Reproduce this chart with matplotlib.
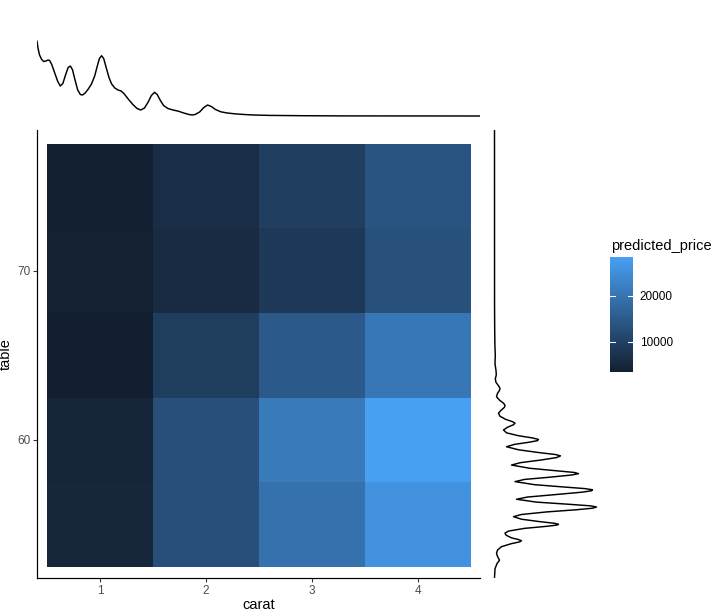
import numpy as np
import matplotlib
matplotlib.use("Agg")
import matplotlib.pyplot as plt
from matplotlib.colors import LinearSegmentedColormap

plt.rcParams['font.family'] = ['Liberation Sans', 'DejaVu Sans']

# predicted price grid (rows = table, columns = carat)
carat = [1, 2, 3, 4]
table = [55, 60, 65, 70, 75]
predicted_price = [
    [5000, 12700, 19400, 25700],   # table 55
    [4600, 12700, 20900, 28400],   # table 60
    [3400, 9200, 14900, 20400],    # table 65
    [3800, 5800, 8400, 12900],     # table 70
    [3500, 6300, 9400, 13700],     # table 75
]
legend_ticks = [10000, 20000]

# marginal density of carat (top)
carat_x = [0.406, 0.415, 0.43, 0.45, 0.47, 0.49, 0.51, 0.525, 0.545, 0.57, 0.60,
           0.625, 0.65, 0.675, 0.70, 0.72, 0.74, 0.765, 0.79, 0.815, 0.835, 0.86,
           0.89, 0.92, 0.95, 0.975, 0.995, 1.015, 1.035, 1.06, 1.085, 1.11, 1.14,
           1.17, 1.2, 1.23, 1.27, 1.31, 1.35, 1.385, 1.42, 1.455, 1.485, 1.515,
           1.54, 1.57, 1.60, 1.64, 1.69, 1.74, 1.79, 1.84, 1.87, 1.9, 1.94, 1.98,
           2.015, 2.05, 2.09, 2.14, 2.2, 2.28, 2.36, 2.45, 2.6, 2.9, 3.3, 4.585]
carat_dens = [75, 68, 61, 56.5, 54.5, 55, 56, 55.5, 51.5, 44, 35,
              30, 32.5, 41, 48.5, 50, 46.5, 36, 26, 21.5, 21, 23,
              27, 32, 40, 50, 57.5, 60.3, 57.5, 48, 38.5, 32, 28,
              26, 25, 22, 16.5, 11.5, 7.5, 6, 8, 14, 20.5, 23.7,
              21.5, 15.5, 10.5, 7.5, 6, 4.8, 3, 1.5, 1, 1.6, 4, 8.5,
              11, 9.5, 6.5, 4.2, 3, 2.1, 1.5, 1.0, 0.6, 0.3, 0.1, 0]

# marginal density of table (right)
table_y = [51.85, 52.4, 52.7, 52.9, 53.1, 53.3, 53.5, 53.7, 53.88, 53.98, 54.05,
           54.12, 54.22, 54.38, 54.5, 54.62, 54.78, 54.9, 54.97, 55.02, 55.08,
           55.18, 55.32, 55.47, 55.6, 55.75, 55.88, 55.97, 56.04, 56.11, 56.2,
           56.33, 56.5, 56.63, 56.78, 56.92, 57.0, 57.06, 57.13, 57.22, 57.36,
           57.54, 57.67, 57.8, 57.93, 58.01, 58.08, 58.18, 58.33, 58.52, 58.66,
           58.82, 58.96, 59.06, 59.14, 59.25, 59.42, 59.6, 59.74, 59.87, 59.96,
           60.03, 60.12, 60.25, 60.42, 60.59, 60.75, 60.9, 60.99, 61.08, 61.22,
           61.4, 61.58, 61.75, 61.93, 62.05, 62.17, 62.35, 62.55, 62.75, 62.93,
           63.05, 63.2, 63.4, 63.6, 63.85, 64.1, 64.5, 65.0, 65.6, 66.5, 68, 78.3]
table_dens = [0, 0.5, 2.5, 5, 3.2, 2, 3, 7, 17, 25, 27,
              24, 17, 11.5, 10.5, 14, 30, 52, 62, 64, 60,
              45, 27, 19, 27, 52, 82, 98, 102, 96, 75,
              42, 22, 33, 62, 88, 97, 98, 90, 70, 40,
              20.5, 30, 55, 77, 84, 80, 62, 35, 17, 26,
              47, 62, 66, 61, 45, 24, 12, 20, 35, 43,
              44, 38, 24, 12, 9, 13, 19, 20.5, 18, 11,
              5.5, 4, 6.5, 10, 10.5, 9, 5, 2, 3, 5,
              5.5, 4, 1.5, 0.8, 1.8, 1.5, 0.5, 0.8, 0.4, 0.2, 0.05, 0]

W, H = 711, 612
fig = plt.figure(figsize=(W / 96, H / 96), dpi=96)

def rect(l, t, r, b):
    return [l / W, (H - b) / H, (r - l) / W, (b - t) / H]

cmap = LinearSegmentedColormap.from_list('gg', ['#131f30', '#48a0f4'])
z = np.array(predicted_price)
vmin, vmax = z.min(), z.max()

ax = fig.add_axes(rect(37, 130, 480, 578))
cx = np.array(carat, dtype=float)
ty = np.array(table, dtype=float)
xe = np.append(cx - 0.5, cx[-1] + 0.5)
ye = np.append(ty - 2.5, ty[-1] + 2.5)
mesh = ax.pcolormesh(xe, ye, z, cmap=cmap, vmin=vmin, vmax=vmax)
ax.set_xlim(0.406, 4.585)
ax.set_ylim(51.85, 78.3)
ax.set_xticks(carat)
ax.set_yticks([60, 70])
for s in ['top', 'right']:
    ax.spines[s].set_visible(False)
for s in ['left', 'bottom']:
    ax.spines[s].set_linewidth(0.9)
    ax.spines[s].set_color('black')
ax.tick_params(direction='out', length=2.75, width=0.8, color='#333333',
               labelcolor='#4d4d4d', labelsize=8.8, pad=2.2)
ax.set_xlabel('carat', fontsize=11, labelpad=1)
ax.set_ylabel('table', fontsize=11, labelpad=3)

# top marginal
axt = fig.add_axes(rect(37, 30, 480, 120))
axt.plot(carat_x, carat_dens, color='black', lw=1.1,
         solid_joinstyle='round', solid_capstyle='round')
axt.set_xlim(0.406, 4.585)
axt.set_ylim(-4, 86)
axt.axis('off')

# right marginal
axr = fig.add_axes(rect(490, 130, 600, 578))
axr.plot(table_dens, table_y, color='black', lw=1.1,
         solid_joinstyle='round', solid_capstyle='round')
axr.set_xlim(-4.5, 105.5)
axr.set_ylim(51.85, 78.3)
axr.axis('off')

# colour bar legend
cax = fig.add_axes(rect(610, 257, 633, 372))
cb = fig.colorbar(mesh, cax=cax)
cb.outline.set_visible(False)
cb.set_ticks(legend_ticks)
cb.ax.tick_params(length=0, labelsize=8.8, pad=5, labelcolor='black')
for v in legend_ticks:
    cax.axhline(v, 0, 0.2, color='white', lw=0.8)
    cax.axhline(v, 0.8, 1, color='white', lw=0.8)
fig.text(611 / W, 1 - 246 / H, 'predicted_price', fontsize=11, ha='left', va='center')

fig.savefig('out.png', dpi=96)
